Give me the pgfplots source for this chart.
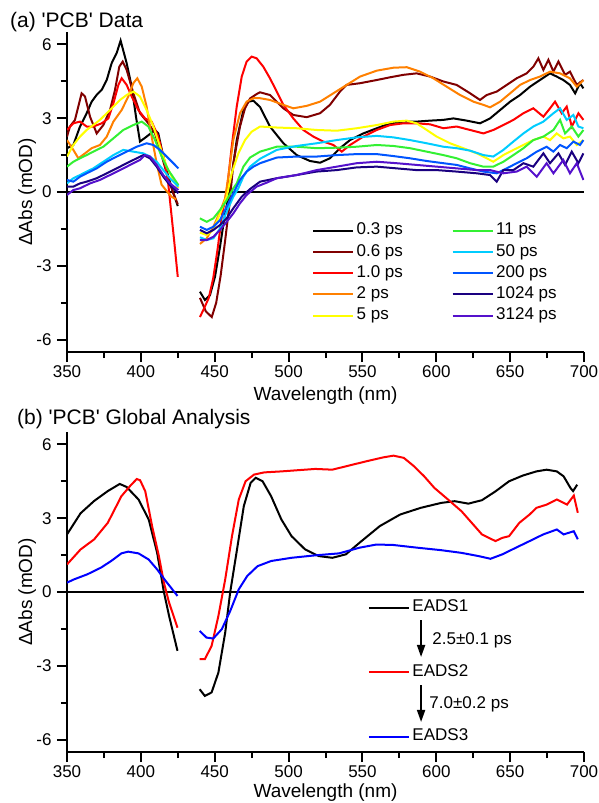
\documentclass[border=0pt]{standalone}
\usepackage{pgfplots}
\pgfplotsset{compat=1.18}
\usepackage{fontspec}
\setmainfont{Liberation Sans}
\usetikzlibrary{arrows.meta}
\definecolor{cA}{RGB}{0,0,0}
\definecolor{cB}{RGB}{128,0,0}
\definecolor{cC}{RGB}{255,0,0}
\definecolor{cD}{RGB}{255,128,0}
\definecolor{cE}{RGB}{255,255,0}
\definecolor{cF}{RGB}{51,240,51}
\definecolor{cG}{RGB}{0,204,255}
\definecolor{cH}{RGB}{0,85,255}
\definecolor{cI}{RGB}{26,0,128}
\definecolor{cJ}{RGB}{85,17,204}
\definecolor{eB}{RGB}{0,0,255}
\newcommand{\fs}{\fontsize{17bp}{20bp}\selectfont}
\newcommand{\fl}{\fontsize{19bp}{22bp}\selectfont}
\pgfplotsset{
  panel/.style={
    scale only axis, width=517bp, height=320bp,
    xmin=350, xmax=700, ymin=-6.5, ymax=6.5,
    axis x line*=bottom, axis y line*=left,
    axis line style={line width=2.4bp, black},
    xtick={350,400,...,700}, ytick={-6,-3,0,3,6},
    minor x tick num=1, minor y tick num=1,
    tick align=outside, major tick length=10bp, minor tick length=6bp,
    every tick/.style={line width=2bp, black},
    /pgf/number format/assume math mode=true,
    tick label style={font=\fs},
    yticklabel style={xshift=-2bp},
    label style={font=\fl},
    xlabel={Wavelength (nm)}, ylabel={ΔAbs (mOD)},
    xlabel style={at={(axis description cs:0.5,-0.153)}, anchor=base},
    ylabel style={at={(axis description cs:-0.077,0.5)}, anchor=center},
    unbounded coords=jump, no markers,
    every axis plot/.append style={line width=2bp},
    legend cell align=left,
    legend image code/.code={\draw[##1, line width=2bp] (0bp,0bp) -- (40bp,0bp);},
  }
}
\begin{document}
\begin{tikzpicture}
\useasboundingbox (0,0) rectangle (599bp,-803bp);
\node[anchor=base west, inner sep=0pt, font=\fontsize{21bp}{24bp}\selectfont] at (10bp,-27bp) {(a) \textquotesingle PCB\textquotesingle\ Data};
\node[anchor=base west, inner sep=0pt, font=\fontsize{21bp}{24bp}\selectfont] at (17bp,-424bp) {(b) \textquotesingle PCB\textquotesingle\ Global Analysis};
\begin{axis}[panel, at={(67bp,-352bp)}, anchor=south west,
  legend style={at={(axis description cs:0.474,0.4116)}, anchor=north west,
    draw=none, fill=none, inner sep=0pt, outer sep=0pt, row sep=0pt,
    font=\fs,
    nodes={inner sep=2.6bp, text height=12bp, text depth=4bp},
    /tikz/every even column/.append style={column sep=46bp}},
  legend columns=5, transpose legend]
\addplot[black, line width=2.4bp, forget plot] coordinates {(350,0) (700,0)};
\addplot[cA] coordinates {(350,1.78)(354.3,1.91)(358.8,2.66)(363.3,3.2)(366.7,3.67)(370,3.94)(373.5,4.15)(376.9,4.55)(380.2,5.23)(383.6,5.64)(386.3,6.15)(390.4,5.23)(393.8,4.28)(396.7,3.06)(399.4,2.05)(403.9,2.25)(409.6,2.52)(411.8,2.38)(415.2,1.44)(418.6,0.62)(422,-0.05)(425,-0.57)
(432,nan)
(440,-4.05)(443.4,-4.39)(446.8,-4.19)(450.2,-3.44)(453.6,-2.22)(457,-0.87)(460,0)(464.9,2.11)(469.4,3.33)(472.8,3.67)(476.2,3.71)(480.7,3.45)(487.4,2.66)(496.5,1.98)(505.5,1.5)(514.5,1.26)(521.3,1.19)(528,1.37)(534.8,1.78)(541.6,2.11)(550.6,2.38)(559.7,2.59)(568.7,2.79)(577.7,2.86)(586.7,2.86)(595.8,2.9)(604.8,2.93)(611.6,2.99)(620.6,2.9)(629.6,2.79)(636.4,2.99)(643.2,3.33)(650,3.67)(656.7,3.94)(663.5,4.28)(670.2,4.55)(677,4.82)(681.5,4.69)(686,4.55)(690.5,4.35)(694,4.01)(697.3,4.42)(699.6,4.21)};
\addlegendentry{0.3 ps}
\addplot[cB] coordinates {(350,2.25)(352,2.66)(355.4,2.93)(359.9,4.01)(362.2,3.88)(365.6,3.06)(370.1,2.38)(374.6,2.72)(379.1,3.33)(382.5,4.15)(385.4,5.09)(387.7,5.3)(390.4,4.96)(394.9,4.01)(399.4,3.2)(405.1,2.79)(409.6,2.38)(413,1.71)(417.5,0.76)(422,-0.05)(425,-0.5)
(432,nan)
(440,-4.3)(444,-4.85)(448,-5.08)(451,-4.5)(454,-3.4)(457,-2.0)(460,-0.5)(462.6,1.17)(467.1,2.66)(470.5,3.4)(473.9,3.8)(478.4,3.98)(480.7,4.05)(487.4,3.94)(496.5,3.4)(503.2,3.13)(512.3,3.04)(521.3,3.2)(528,3.54)(534.8,4.08)(539.3,4.35)(548.4,4.42)(559.7,4.55)(568.7,4.66)(577.7,4.76)(586.7,4.82)(595.8,4.69)(604.8,4.49)(613.8,4.35)(622.9,4.01)(629.6,3.74)(634.1,3.94)(640.9,4.08)(647.7,4.35)(654.4,4.62)(661.2,4.82)(665.7,5.09)(669.1,5.43)(672.5,4.96)(675.9,5.37)(679.3,4.89)(682.7,5.3)(687.2,4.76)(690.5,4.89)(695.1,4.35)(699.6,4.55)};
\addlegendentry{0.6 ps}
\addplot[cC] coordinates {(350,2.52)(354.3,2.79)(358.8,2.86)(363.3,2.66)(367.8,2.66)(373.5,2.79)(378,2.99)(381.4,3.6)(384.8,4.35)(387,4.62)(390.4,4.35)(393.8,3.88)(398.3,3.33)(402.8,2.99)(407.3,2.86)(411.8,2.25)(416.4,1.17)(418.6,0.3)(420.5,-0.8)(422.5,-1.95)(425,-3.45)
(432,nan)
(440,-5.08)(443,-4.7)(446,-4.3)(449,-3.5)(452,-2.3)(455,-0.9)(458.1,0)(461.5,1.84)(464.9,3.47)(468.3,4.69)(471.6,5.3)(475,5.5)(478.4,5.43)(482.9,5.09)(487.4,4.62)(492,4.08)(496.5,3.54)(503.2,2.99)(510,2.52)(516.8,2.25)(523.5,2.05)(530.3,1.91)(536,1.64)(541.6,1.91)(550.6,2.25)(559.7,2.52)(568.7,2.72)(577.7,2.79)(586.7,2.79)(595.8,2.75)(604.8,2.59)(613.8,2.66)(622.9,2.52)(631.9,2.38)(638.6,2.52)(645.4,2.72)(652.2,2.93)(659,3.2)(665.7,3.4)(672.5,3.06)(677,3.4)(680.4,3.67)(684.9,3.2)(688.3,3.47)(691.7,2.66)(696.2,3.2)(699.6,2.93)};
\addlegendentry{1.0 ps}
\addplot[cD] coordinates {(350,2.11)(354.3,1.71)(357.7,1.37)(362.2,1.57)(366.7,1.78)(372.3,1.91)(376.9,2.25)(381.4,2.86)(387,3.33)(391.5,3.88)(394.9,4.42)(397.6,4.62)(400.6,4.28)(403.9,3.47)(407.3,2.25)(410.7,1.17)(414,0.3)(418,0.0)(421,-0.2)(424,-0.3)
(432,nan)
(440,-2.11)(444.6,-1.88)(449.1,-1.41)(453.6,-0.8)(457,-0.26)(459.2,0.62)(462.6,2.11)(467.1,3.2)(471.6,3.67)(476.2,3.81)(480.7,3.81)(487.4,3.74)(496.5,3.54)(503.2,3.4)(512.3,3.5)(521.3,3.67)(530.3,4.01)(539.3,4.35)(548.4,4.69)(559.7,4.93)(571,5.05)(580,5.07)(589,4.89)(598,4.62)(607,4.28)(616.1,3.94)(625.1,3.67)(631.9,3.54)(636.4,3.44)(643.2,3.67)(650,4.01)(656.7,4.35)(663.5,4.55)(670.2,4.69)(677,4.89)(683.8,4.82)(690.5,4.62)(695.1,4.28)(699.6,4.55)};
\addlegendentry{2 ps}
\addplot[cE] coordinates {(350,1.44)(354.3,1.91)(358.8,2.25)(363.3,2.52)(367.8,2.72)(372.3,2.93)(376.9,3.2)(381.4,3.47)(385.9,3.74)(390.4,3.94)(394.9,4.08)(399.4,3.88)(403.9,3.33)(408.5,2.66)(413,1.84)(417.5,1.03)(422,0.49)(425.4,0.15)
(432,nan)
(440,-1.65)(444.6,-1.75)(449.1,-1.54)(453.6,-0.87)(458.1,-0.19)(461.5,0.76)(466,1.57)(470.5,2.11)(475,2.45)(480.7,2.66)(492,2.62)(505.5,2.59)(519,2.52)(532.6,2.49)(546.1,2.59)(559.7,2.72)(571,2.86)(580,2.9)(586.7,2.79)(593.5,2.52)(600.3,2.25)(609.3,1.98)(618.3,1.78)(627.4,1.57)(634.1,1.37)(638.6,1.23)(645.4,1.5)(652.2,1.71)(659,1.91)(665.7,2.11)(672.5,2.25)(677,2.11)(681.5,2.38)(686,2.18)(690.5,2.25)(695.1,1.91)(699.6,2.11)};
\addlegendentry{5 ps}
\addplot[cF] coordinates {(350,1.03)(354.3,1.23)(358.8,1.37)(363.3,1.5)(367.8,1.64)(374.6,1.84)(381.4,2.18)(388.1,2.52)(394.9,2.72)(400.6,2.86)(405.1,2.66)(409.6,2.11)(414.1,1.44)(418.6,0.89)(423.1,0.49)(425.4,0.28)
(432,nan)
(440,-1.07)(444.6,-1.21)(449.1,-1.07)(453.6,-0.73)(458.1,-0.33)(462.6,0.15)(464.9,0.35)(469.4,1.03)(473.9,1.4)(480.7,1.64)(492,1.84)(505.5,1.84)(519,1.78)(532.6,1.8)(546.1,1.84)(559.7,1.91)(571,1.87)(582.2,1.78)(593.5,1.64)(604.8,1.5)(613.8,1.37)(622.9,1.17)(631.9,1.03)(638.6,1.03)(645.4,1.23)(652.2,1.5)(659,1.78)(665.7,2.11)(672.5,2.25)(679.3,2.52)(683.8,2.93)(687.2,2.38)(691.7,2.66)(696.2,2.25)(699.6,2.52)};
\addlegendentry{11 ps}
\addplot[cG] coordinates {(350,0.35)(354.3,0.56)(358.8,0.69)(363.3,0.83)(367.8,0.96)(374.6,1.23)(381.4,1.5)(388.1,1.71)(394.9,1.64)(401.7,1.57)(406.2,1.44)(410.7,1.23)(415.2,0.89)(419.7,0.56)(425.4,0.22)
(432,nan)
(440,-1.84)(444.6,-1.95)(449.1,-1.88)(453.6,-1.48)(458.1,-0.8)(462.6,-0.19)(466,0.15)(469.4,0.62)(473.9,1.03)(480.7,1.35)(492,1.71)(505.5,1.87)(519,1.98)(532.6,2.11)(546.1,2.22)(559.7,2.28)(571,2.22)(582.2,2.11)(593.5,1.98)(604.8,1.84)(613.8,1.78)(622.9,1.68)(631.9,1.5)(638.6,1.44)(645.4,1.71)(652.2,2.05)(659,2.38)(665.7,2.66)(672.5,2.86)(679.3,3.2)(683.8,3.4)(688.3,2.93)(692.8,3.13)(696.2,2.66)(699.6,2.59)};
\addlegendentry{50 ps}
\addplot[cH] coordinates {(350,0.49)(354.3,0.42)(358.8,0.62)(363.3,0.76)(370.1,0.96)(376.9,1.23)(383.6,1.44)(390.4,1.64)(397.2,1.84)(403.9,1.98)(408.5,1.91)(413,1.71)(417.5,1.44)(422,1.17)(425.4,0.96)
(432,nan)
(440,-1.41)(444.6,-1.54)(449.1,-1.41)(453.6,-1.14)(458.1,-0.6)(462.6,-0.05)(467.1,0.49)(471.6,0.83)(476.2,1.03)(480.7,1.17)(492,1.4)(505.5,1.44)(519,1.44)(532.6,1.5)(546.1,1.54)(559.7,1.54)(571,1.46)(582.2,1.37)(593.5,1.26)(604.8,1.17)(613.8,1.1)(622.9,0.96)(631.9,0.83)(640.9,0.76)(647.7,0.96)(654.4,1.17)(661.2,1.37)(668,1.64)(674.7,1.84)(679.3,1.64)(683.8,1.91)(688.3,1.78)(692.8,2.05)(697.3,1.91)(699.6,2.11)};
\addlegendentry{200 ps}
\addplot[cI] coordinates {(350,0.22)(354.3,0.22)(358.8,0.35)(363.3,0.42)(370.1,0.56)(376.9,0.76)(383.6,0.96)(390.4,1.17)(397.2,1.37)(401.7,1.5)(406.2,1.37)(410.7,1.03)(415.2,0.62)(419.7,0.28)(425.4,-0.05)
(432,nan)
(440,-1.54)(444.6,-1.68)(449.1,-1.54)(453.6,-1.34)(458.1,-1.07)(462.6,-0.66)(468.3,-0.19)(473.9,0.12)(480.7,0.42)(492,0.56)(505.5,0.69)(519,0.83)(532.6,0.89)(546.1,1.0)(559.7,1.03)(573.2,0.96)(586.7,0.89)(600.3,0.89)(613.8,0.83)(627.4,0.76)(636.4,0.69)(640.9,0.42)(645.4,0.89)(652.2,0.89)(659,1.17)(665.7,1.03)(672.5,1.57)(677,1.17)(682.7,1.57)(687.2,1.1)(691.7,1.64)(696.2,1.17)(699.6,1.57)};
\addlegendentry{1024 ps}
\addplot[cJ] coordinates {(350,-0.12)(354.3,0.08)(358.8,0.15)(365.6,0.35)(372.3,0.49)(379.1,0.69)(385.9,0.89)(392.7,1.1)(399.4,1.3)(402.8,1.5)(406.2,1.44)(410.7,1.1)(415.2,0.69)(419.7,0.35)(425.4,0.08)
(432,nan)
(440,-1.95)(444.6,-1.95)(449.1,-1.82)(453.6,-1.54)(458.1,-1.21)(462.6,-0.87)(467.1,-0.46)(471.6,-0.12)(478.4,0.22)(485.2,0.38)(492,0.56)(505.5,0.69)(519,0.89)(532.6,1.03)(546.1,1.17)(559.7,1.23)(573.2,1.17)(586.7,1.1)(600.3,1.03)(613.8,0.96)(627.4,0.89)(636.4,0.89)(645.4,0.76)(654.4,0.83)(661.2,1.03)(668,0.62)(674.7,1.17)(679.3,0.76)(686,1.3)(690.5,0.76)(695.1,1.17)(699.6,0.49)};
\addlegendentry{3124 ps}
\end{axis}
\begin{axis}[panel, at={(67bp,-752bp)}, anchor=south west,
  xlabel style={at={(axis description cs:0.5,-0.141)}, anchor=base},
  legend style={at={(axis description cs:0.582,0.4833)}, anchor=north west,
    draw=none, fill=none, inner sep=0pt, outer sep=0pt, row sep=11bp,
    font=\fs,
    nodes={inner sep=2.6bp, text height=12bp, text depth=4bp}}]
\addplot[black, line width=2.4bp, forget plot] coordinates {(350,0) (700,0)};
\addplot[black] coordinates {(350,2.34)(359.2,3.2)(368.4,3.7)(377.6,4.1)(385.7,4.39)(390.3,4.27)(398.4,3.76)(405.3,2.95)(411,1.6)(415.6,0)(419.1,-0.97)(424.8,-2.39)
(432,nan)
(439.8,-3.95)(443.3,-4.22)(447.9,-4.08)(452.5,-3.27)(457.1,-1.65)(460.5,0)(465.1,1.73)(469.7,3.49)(474.3,4.43)(477.8,4.64)(482.4,4.5)(488.2,3.89)(495.1,2.95)(502,2.27)(511.2,1.73)(520.4,1.46)(529.6,1.39)(538.8,1.53)(548,2.0)(561.8,2.68)(575.6,3.15)(589.5,3.42)(603.3,3.62)(612.5,3.69)(621.7,3.59)(630.9,3.73)(640.1,4.09)(649.3,4.5)(658.5,4.73)(667.8,4.9)(674.7,4.97)(681.6,4.9)(686.2,4.7)(690.8,4.23)(692.6,4.1)(695.4,4.36)};
\addlegendentry{EADS1}
\addlegendimage{empty legend}
\addlegendentry{\hspace{20bp}2.5±0.1 ps}
\addplot[red] coordinates {(350,1.12)(359.2,1.73)(368.4,2.14)(377.6,2.81)(386.8,3.89)(392.6,4.3)(397.2,4.59)(399.5,4.54)(403,4.09)(407.6,2.68)(412.2,1.46)(415.6,0.38)(419.1,-0.43)(424.8,-1.45)
(432,nan)
(439.8,-2.73)(443.3,-2.73)(447.9,-2.19)(452.5,-0.97)(457.1,0.51)(461.7,2.27)(466.3,3.76)(470.9,4.5)(476.6,4.77)(483.5,4.86)(495.1,4.9)(506.6,4.95)(518.1,5.0)(529.6,4.97)(541.1,5.14)(552.6,5.31)(564.1,5.47)(571,5.54)(578,5.45)(584.9,5.11)(591.8,4.7)(598.7,4.23)(607.9,3.76)(617.1,3.28)(624,2.81)(630.9,2.34)(635.5,2.2)(640.1,2.07)(644.7,2.2)(649.3,2.27)(656.2,2.81)(663.2,3.15)(667.8,3.42)(674.7,3.55)(681.6,3.76)(688.5,3.55)(693.1,3.92)(695.8,3.22)};
\addlegendentry{EADS2}
\addlegendimage{empty legend}
\addlegendentry{\hspace{17bp}7.0±0.2 ps}
\addplot[eB] coordinates {(350,0.38)(354.6,0.51)(363.8,0.72)(373,0.99)(379.9,1.26)(386.8,1.57)(391.4,1.64)(398.4,1.57)(405.3,1.32)(411,0.92)(416.8,0.45)(424.8,-0.16)
(432,nan)
(439.8,-1.58)(444.4,-1.85)(449,-1.89)(454.8,-1.51)(460.5,-0.77)(466.3,0.11)(472,0.65)(479,1.05)(488.2,1.26)(502,1.39)(518.1,1.49)(534.2,1.57)(548,1.8)(559.5,1.93)(571,1.91)(587.2,1.8)(603.3,1.7)(617.1,1.59)(628.6,1.46)(636.7,1.35)(644.7,1.53)(653.9,1.8)(663.2,2.07)(672.4,2.34)(681.6,2.54)(686.2,2.34)(693.1,2.47)(695.8,2.14)};
\addlegendentry{EADS3}
\draw[line width=1.8bp, -{Triangle[length=12bp,width=8bp]}] (axis cs:589.7,-1.14) -- (axis cs:589.7,-2.64);
\draw[line width=1.8bp, -{Triangle[length=12bp,width=8bp]}] (axis cs:589.7,-3.78) -- (axis cs:589.7,-5.28);
\end{axis}
\end{tikzpicture}
\end{document}
